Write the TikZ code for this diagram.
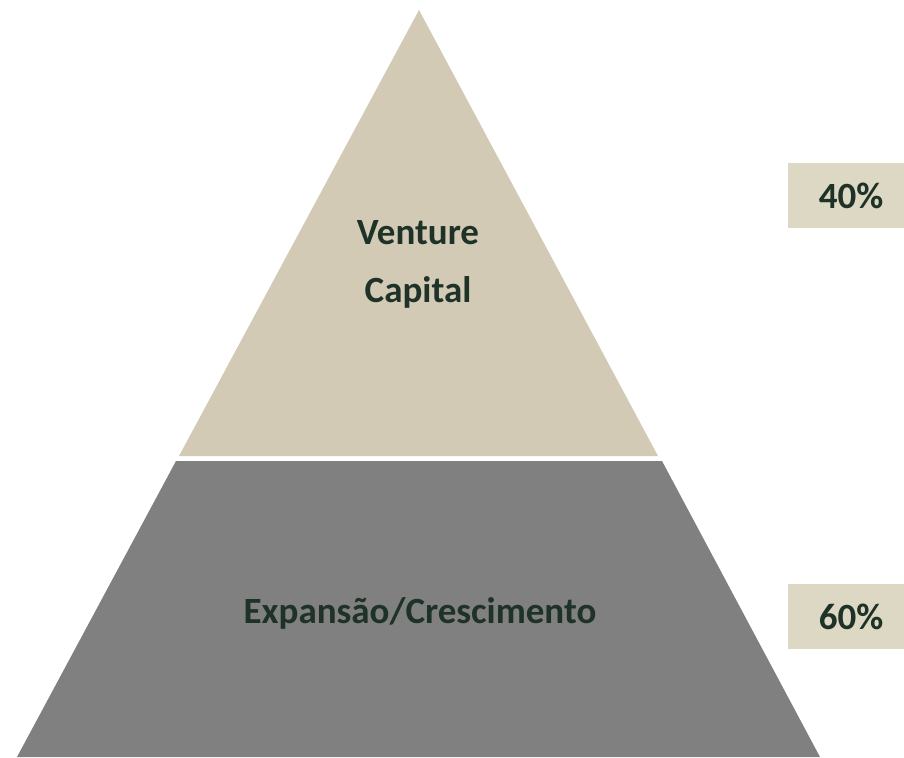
\documentclass[tikz,border=0pt]{standalone}
\usepackage{fontspec}
\setmainfont{Carlito}
\usetikzlibrary{positioning, calc}

\definecolor{sand}{RGB}{211,202,182}
\definecolor{sandlight}{RGB}{221,216,196}
\definecolor{slate}{RGB}{128,128,128}
\definecolor{ink}{RGB}{30,50,40}

\begin{document}
\begin{tikzpicture}[
    x=1pt, y=-1pt,
    % Styles
    tier/.style={ % Pyramid sections
        draw=none
    },
    label/.style={ % Text inside the pyramid
        font=\fontsize{37}{58}\selectfont\bfseries,
        text=ink,
        align=center,
        inner sep=0pt
    },
    share/.style={ % Percentage boxes
        rectangle,
        fill=sandlight,
        minimum width=126pt,
        minimum height=65pt,
        inner sep=0pt,
        font=\fontsize{37}{40}\selectfont\bfseries,
        text=ink
    }
]

    \useasboundingbox (0,0) rectangle (904,757);

    % Pyramid
    \coordinate (apex) at (419,10);
    \fill[tier, sand] (apex) -- (658,456) -- (179,456) -- cycle;
    \fill[tier, slate] (176,461) -- (662,461) -- (820,757) -- (17,757) -- cycle;

    % Section labels
    \node[label] (vc) at (418,264) {Venture\\Capital};
    \node[label] (exp) at (420,613) {Expansão/Crescimento};

    % Percentages
    \node[share] (p40) at (851,195.5) {40\%};
    \node[share] (p60) at (851,616.5) {60\%};

\end{tikzpicture}
\end{document}
